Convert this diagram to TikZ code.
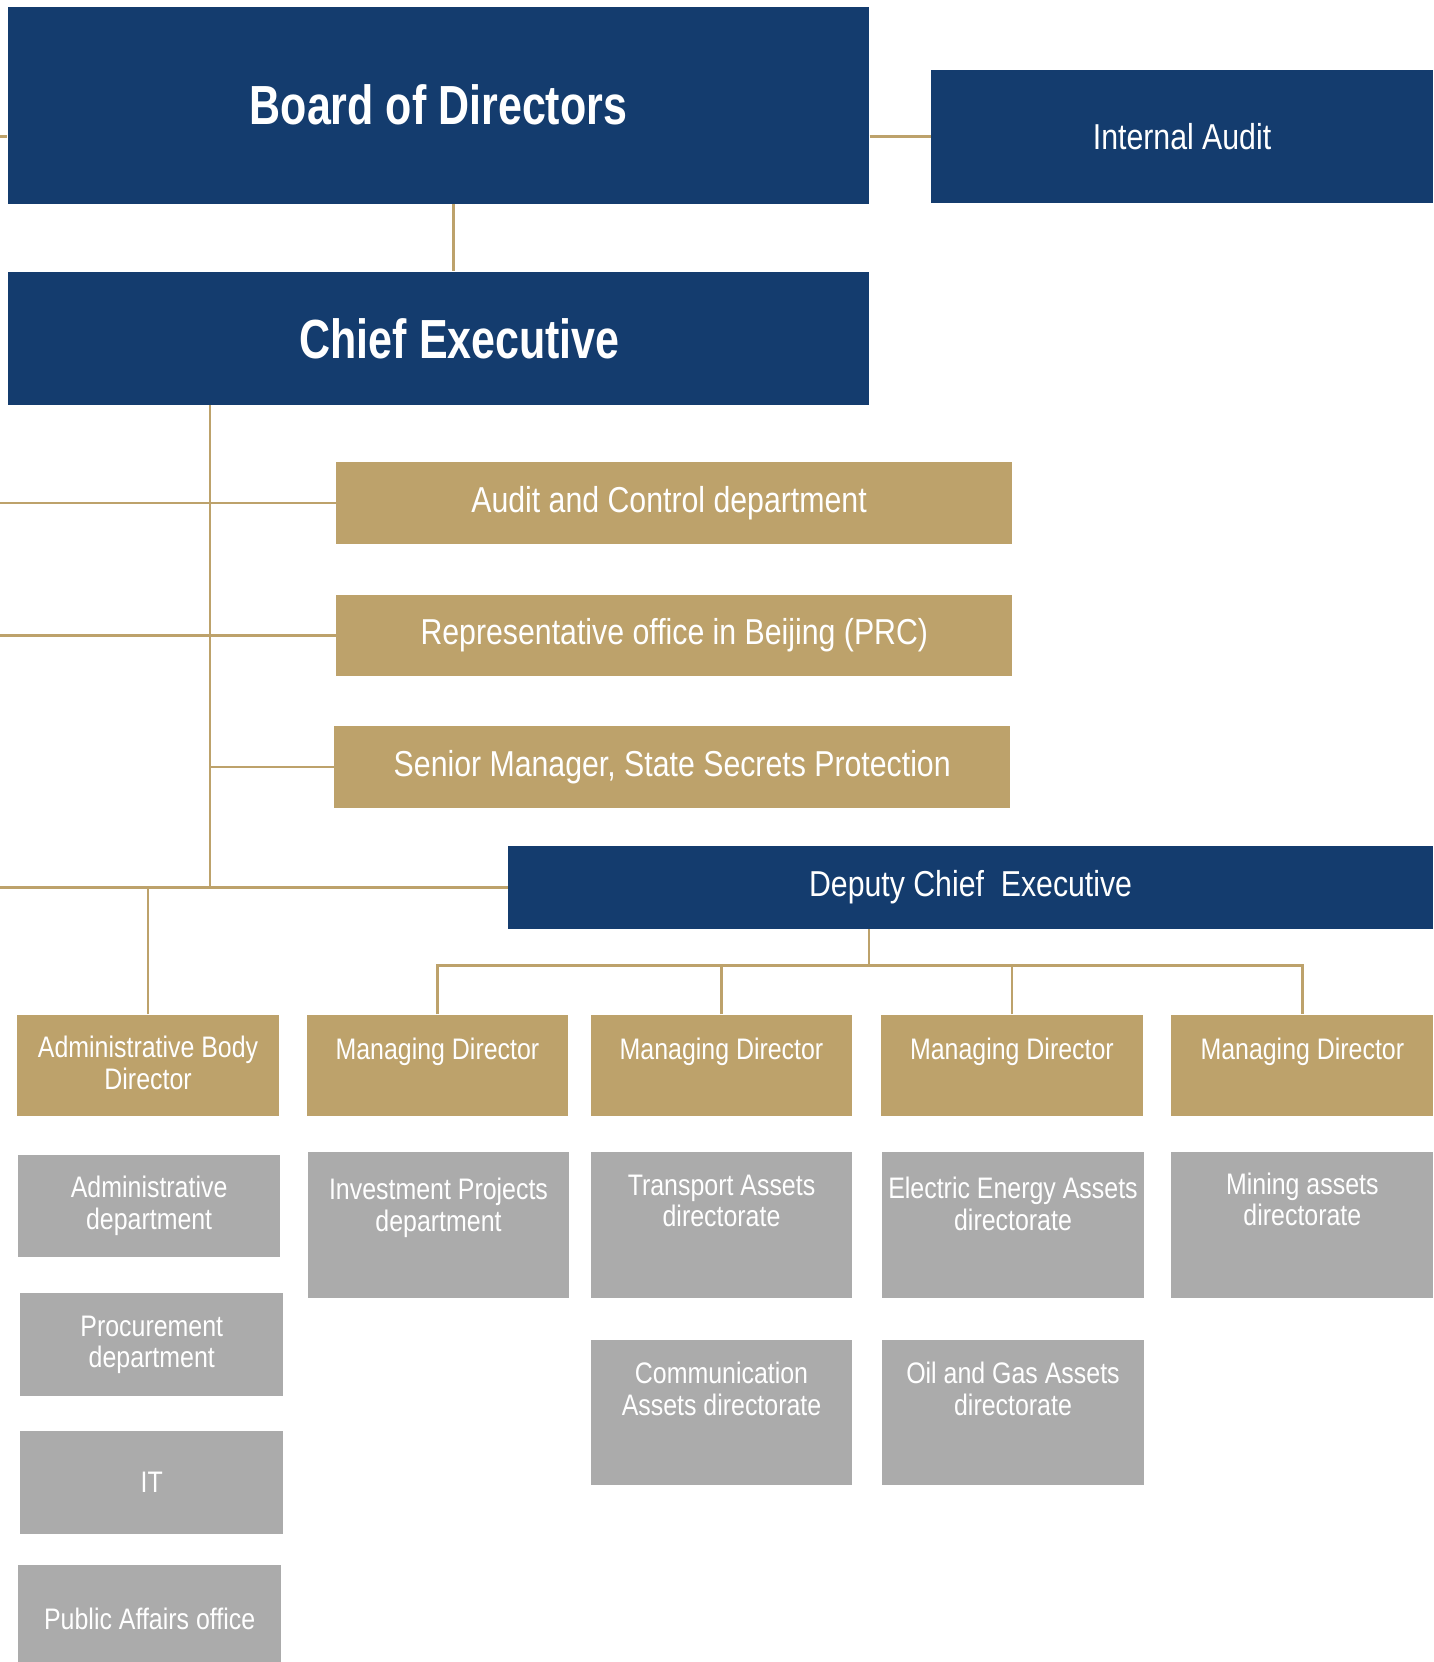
\documentclass[tikz,border=0pt]{standalone}
\usepackage{fontspec}
\setmainfont{Liberation Sans}[FakeStretch=0.84,BoldFeatures={FakeStretch=0.78}]
\definecolor{boardblue}{RGB}{20,60,110}
\definecolor{goldline}{RGB}{189,162,107}
\definecolor{deptgrey}{RGB}{171,171,171}
\tikzset{
  box/.style={rectangle, inner sep=0pt, anchor=north west, text=white},
  bluebox/.style={box, fill=boardblue},
  goldbox/.style={box, fill=goldline},
  greybox/.style={box, fill=deptgrey},
  link/.style={draw=goldline, line width=2.5pt},
  big/.style={font=\fontsize{52}{56}\selectfont\bfseries},
  mid/.style={font=\fontsize{34}{38}\selectfont},
  small/.style={font=\fontsize{28}{30}\selectfont, align=center},
  toptext/.style={anchor=north, inner sep=0pt, text=white, font=\fontsize{28}{30}\selectfont, align=center},
}
\begin{document}
\begin{tikzpicture}[x=1pt,y=1pt]
  \useasboundingbox (0,0) rectangle (1352,-1568);

  \node[bluebox, big, minimum width=813pt, minimum height=186pt] (bod) at (7,-6) {Board of Directors};
  \node[bluebox, mid, minimum width=474pt, minimum height=125pt] (ia) at (878,-66) {Internal Audit};
  \node[bluebox, big, minimum width=813pt, minimum height=126pt] (ceo) at (7,-256) {\hspace*{40pt}Chief Executive};
  \node[goldbox, mid, minimum width=638pt, minimum height=77pt] (acd) at (317,-436) {Audit and Control department\hspace*{10pt}};
  \node[goldbox, mid, minimum width=638pt, minimum height=77pt] (rep) at (317,-561) {Representative office in Beijing (PRC)};
  \node[goldbox, mid, minimum width=638pt, minimum height=77pt] (ssp) at (315,-685) {Senior Manager, State Secrets Protection};
  \node[bluebox, mid, minimum width=873pt, minimum height=78pt] (dce) at (479,-798) {Deputy Chief\ \ Executive};

  \node[goldbox, minimum width=247pt, minimum height=96pt,
        label={[toptext, label distance=-20pt]north:Administrative Body\\Director}] (abd) at (16,-957) {};
  \foreach \n/\x in {md1/289, md2/557, md3/831, md4/1105}
    \node[goldbox, minimum width=247pt, minimum height=96pt,
          label={[toptext, label distance=-22pt]north:Managing Director}] (\n) at (\x,-957) {};

  \node[greybox, small, minimum width=247pt, minimum height=97pt] (adm) at (17,-1089) {Administrative\\department};
  \node[greybox, small, minimum width=248pt, minimum height=97pt] (proc) at (19,-1220) {Procurement\\department};
  \node[greybox, small, minimum width=248pt, minimum height=97pt] (it) at (19,-1350) {IT};
  \node[greybox, small, minimum width=248pt, minimum height=102pt] (pao) at (17,-1476) {Public Affairs office};

  \node[greybox, minimum width=247pt, minimum height=137pt,
        label={[toptext, label distance=-24pt]north:Investment Projects\\department}] (inv) at (290,-1087) {};
  \node[greybox, minimum width=247pt, minimum height=137pt,
        label={[toptext, label distance=-21pt]north:Transport Assets\\directorate}] (tra) at (557,-1087) {};
  \node[greybox, minimum width=247pt, minimum height=137pt,
        label={[toptext, label distance=-23pt]north:Electric Energy Assets\\directorate}] (ele) at (832,-1087) {};
  \node[greybox, minimum width=247pt, minimum height=137pt,
        label={[toptext, label distance=-19pt]north:Mining assets\\directorate}] (min) at (1105,-1087) {};
  \node[greybox, minimum width=247pt, minimum height=137pt,
        label={[toptext, label distance=-21pt]north:Communication\\Assets directorate}] (com) at (557,-1264) {};
  \node[greybox, minimum width=247pt, minimum height=137pt,
        label={[toptext, label distance=-21pt]north:Oil and Gas Assets\\directorate}] (oil) at (832,-1264) {};

  \coordinate (edge) at (0,0);
  \coordinate (spine) at (198,0);
  \coordinate (bus) at (820,-911);

  \draw[link] (edge |- ia.west) -- (bod.west |- ia.west);
  \draw[link] (bod.east |- ia.west) -- (ia.west);
  \draw[link] ([xshift=14pt]bod.south) -- ([xshift=14pt]bod.south |- ceo.north);
  \draw[link] (spine |- ceo.south) -- (spine |- dce.west);
  \draw[link] (edge |- acd.west) -- (acd.west);
  \draw[link] (edge |- rep.west) -- (rep.west);
  \draw[link] (spine |- ssp.west) -- (ssp.west);
  \draw[link] (edge |- dce.west) -- (dce.west);
  \draw[link] (abd.north) -- (abd.north |- dce.west);
  \draw[link] (dce.south -| bus) -- (bus);
  \draw[link] (md1.north) -- (md1.north |- bus) -- (md4.north |- bus) -- (md4.north);
  \foreach \n in {md2,md3}
    \draw[link] (\n.north) -- (\n.north |- bus);
\end{tikzpicture}
\end{document}
